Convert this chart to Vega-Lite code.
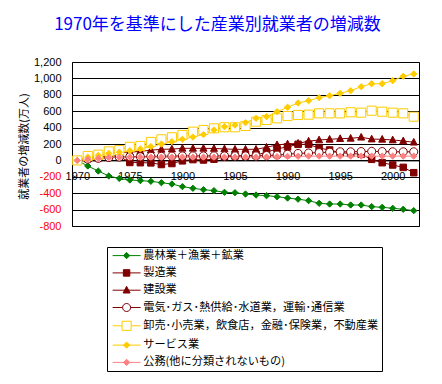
{
"$schema":"https://vega.github.io/schema/vega-lite/v6.json",
"width":347,"height":164,
"autosize":"none",
"padding":{"left":72,"top":62,"right":23,"bottom":158},
"background":"white",
"title":{"text":"1970年を基準にした産業別就業者の増減数","color":"#0000FF","font":"Noto Sans CJK JP","fontSize":17,"fontWeight":"normal","anchor":"middle","frame":"group","dx":-28,"offset":22},
"data":{"values":[
{"year":1970,"series":"農林業＋漁業＋鉱業","value":0},{"year":1971,"series":"農林業＋漁業＋鉱業","value":-68},{"year":1972,"series":"農林業＋漁業＋鉱業","value":-130},{"year":1973,"series":"農林業＋漁業＋鉱業","value":-190},{"year":1974,"series":"農林業＋漁業＋鉱業","value":-220},{"year":1975,"series":"農林業＋漁業＋鉱業","value":-239},{"year":1976,"series":"農林業＋漁業＋鉱業","value":-247},{"year":1977,"series":"農林業＋漁業＋鉱業","value":-255},{"year":1978,"series":"農林業＋漁業＋鉱業","value":-272},{"year":1979,"series":"農林業＋漁業＋鉱業","value":-288},{"year":1980,"series":"農林業＋漁業＋鉱業","value":-320},{"year":1981,"series":"農林業＋漁業＋鉱業","value":-340},{"year":1982,"series":"農林業＋漁業＋鉱業","value":-357},{"year":1983,"series":"農林業＋漁業＋鉱業","value":-369},{"year":1984,"series":"農林業＋漁業＋鉱業","value":-389},{"year":1985,"series":"農林業＋漁業＋鉱業","value":-394},{"year":1986,"series":"農林業＋漁業＋鉱業","value":-410},{"year":1987,"series":"農林業＋漁業＋鉱業","value":-422},{"year":1988,"series":"農林業＋漁業＋鉱業","value":-430},{"year":1989,"series":"農林業＋漁業＋鉱業","value":-443},{"year":1990,"series":"農林業＋漁業＋鉱業","value":-459},{"year":1991,"series":"農林業＋漁業＋鉱業","value":-473},{"year":1992,"series":"農林業＋漁業＋鉱業","value":-491},{"year":1993,"series":"農林業＋漁業＋鉱業","value":-523},{"year":1994,"series":"農林業＋漁業＋鉱業","value":-532},{"year":1995,"series":"農林業＋漁業＋鉱業","value":-532},{"year":1996,"series":"農林業＋漁業＋鉱業","value":-544},{"year":1997,"series":"農林業＋漁業＋鉱業","value":-544},{"year":1998,"series":"農林業＋漁業＋鉱業","value":-564},{"year":1999,"series":"農林業＋漁業＋鉱業","value":-572},{"year":2000,"series":"農林業＋漁業＋鉱業","value":-584},{"year":2001,"series":"農林業＋漁業＋鉱業","value":-596},{"year":2002,"series":"農林業＋漁業＋鉱業","value":-613},
{"year":1970,"series":"製造業","value":0},{"year":1971,"series":"製造業","value":20},{"year":1972,"series":"製造業","value":30},{"year":1973,"series":"製造業","value":60},{"year":1974,"series":"製造業","value":50},{"year":1975,"series":"製造業","value":-25},{"year":1976,"series":"製造業","value":-28},{"year":1977,"series":"製造業","value":-30},{"year":1978,"series":"製造業","value":-50},{"year":1979,"series":"製造業","value":-38},{"year":1980,"series":"製造業","value":-5},{"year":1981,"series":"製造業","value":10},{"year":1982,"series":"製造業","value":5},{"year":1983,"series":"製造業","value":15},{"year":1984,"series":"製造業","value":45},{"year":1985,"series":"製造業","value":54},{"year":1986,"series":"製造業","value":54},{"year":1987,"series":"製造業","value":65},{"year":1988,"series":"製造業","value":100},{"year":1989,"series":"製造業","value":140},{"year":1990,"series":"製造業","value":165},{"year":1991,"series":"製造業","value":196},{"year":1992,"series":"製造業","value":196},{"year":1993,"series":"製造業","value":150},{"year":1994,"series":"製造業","value":127},{"year":1995,"series":"製造業","value":95},{"year":1996,"series":"製造業","value":85},{"year":1997,"series":"製造業","value":75},{"year":1998,"series":"製造業","value":13},{"year":1999,"series":"製造業","value":-28},{"year":2000,"series":"製造業","value":-56},{"year":2001,"series":"製造業","value":-85},{"year":2002,"series":"製造業","value":-150},
{"year":1970,"series":"建設業","value":0},{"year":1971,"series":"建設業","value":20},{"year":1972,"series":"建設業","value":50},{"year":1973,"series":"建設業","value":90},{"year":1974,"series":"建設業","value":100},{"year":1975,"series":"建設業","value":100},{"year":1976,"series":"建設業","value":110},{"year":1977,"series":"建設業","value":125},{"year":1978,"series":"建設業","value":135},{"year":1979,"series":"建設業","value":138},{"year":1980,"series":"建設業","value":147},{"year":1981,"series":"建設業","value":147},{"year":1982,"series":"建設業","value":147},{"year":1983,"series":"建設業","value":145},{"year":1984,"series":"建設業","value":140},{"year":1985,"series":"建設業","value":135},{"year":1986,"series":"建設業","value":135},{"year":1987,"series":"建設業","value":135},{"year":1988,"series":"建設業","value":160},{"year":1989,"series":"建設業","value":190},{"year":1990,"series":"建設業","value":200},{"year":1991,"series":"建設業","value":208},{"year":1992,"series":"建設業","value":234},{"year":1993,"series":"建設業","value":249},{"year":1994,"series":"建設業","value":257},{"year":1995,"series":"建設業","value":265},{"year":1996,"series":"建設業","value":269},{"year":1997,"series":"建設業","value":282},{"year":1998,"series":"建設業","value":260},{"year":1999,"series":"建設業","value":257},{"year":2000,"series":"建設業","value":249},{"year":2001,"series":"建設業","value":237},{"year":2002,"series":"建設業","value":221},
{"year":1970,"series":"電気･ガス･熱供給･水道業，運輸･通信業","value":0},{"year":1971,"series":"電気･ガス･熱供給･水道業，運輸･通信業","value":15},{"year":1972,"series":"電気･ガス･熱供給･水道業，運輸･通信業","value":25},{"year":1973,"series":"電気･ガス･熱供給･水道業，運輸･通信業","value":35},{"year":1974,"series":"電気･ガス･熱供給･水道業，運輸･通信業","value":40},{"year":1975,"series":"電気･ガス･熱供給･水道業，運輸･通信業","value":45},{"year":1976,"series":"電気･ガス･熱供給･水道業，運輸･通信業","value":45},{"year":1977,"series":"電気･ガス･熱供給･水道業，運輸･通信業","value":50},{"year":1978,"series":"電気･ガス･熱供給･水道業，運輸･通信業","value":50},{"year":1979,"series":"電気･ガス･熱供給･水道業，運輸･通信業","value":52},{"year":1980,"series":"電気･ガス･熱供給･水道業，運輸･通信業","value":55},{"year":1981,"series":"電気･ガス･熱供給･水道業，運輸･通信業","value":55},{"year":1982,"series":"電気･ガス･熱供給･水道業，運輸･通信業","value":55},{"year":1983,"series":"電気･ガス･熱供給･水道業，運輸･通信業","value":55},{"year":1984,"series":"電気･ガス･熱供給･水道業，運輸･通信業","value":55},{"year":1985,"series":"電気･ガス･熱供給･水道業，運輸･通信業","value":55},{"year":1986,"series":"電気･ガス･熱供給･水道業，運輸･通信業","value":55},{"year":1987,"series":"電気･ガス･熱供給･水道業，運輸･通信業","value":55},{"year":1988,"series":"電気･ガス･熱供給･水道業，運輸･通信業","value":60},{"year":1989,"series":"電気･ガス･熱供給･水道業，運輸･通信業","value":65},{"year":1990,"series":"電気･ガス･熱供給･水道業，運輸･通信業","value":75},{"year":1991,"series":"電気･ガス･熱供給･水道業，運輸･通信業","value":85},{"year":1992,"series":"電気･ガス･熱供給･水道業，運輸･通信業","value":90},{"year":1993,"series":"電気･ガス･熱供給･水道業，運輸･通信業","value":95},{"year":1994,"series":"電気･ガス･熱供給･水道業，運輸･通信業","value":100},{"year":1995,"series":"電気･ガス･熱供給･水道業，運輸･通信業","value":105},{"year":1996,"series":"電気･ガス･熱供給･水道業，運輸･通信業","value":105},{"year":1997,"series":"電気･ガス･熱供給･水道業，運輸･通信業","value":108},{"year":1998,"series":"電気･ガス･熱供給･水道業，運輸･通信業","value":110},{"year":1999,"series":"電気･ガス･熱供給･水道業，運輸･通信業","value":108},{"year":2000,"series":"電気･ガス･熱供給･水道業，運輸･通信業","value":105},{"year":2001,"series":"電気･ガス･熱供給･水道業，運輸･通信業","value":105},{"year":2002,"series":"電気･ガス･熱供給･水道業，運輸･通信業","value":105},
{"year":1970,"series":"卸売･小売業，飲食店，金融･保険業，不動産業","value":0},{"year":1971,"series":"卸売･小売業，飲食店，金融･保険業，不動産業","value":54},{"year":1972,"series":"卸売･小売業，飲食店，金融･保険業，不動産業","value":70},{"year":1973,"series":"卸売･小売業，飲食店，金融･保険業，不動産業","value":110},{"year":1974,"series":"卸売･小売業，飲食店，金融･保険業，不動産業","value":125},{"year":1975,"series":"卸売･小売業，飲食店，金融･保険業，不動産業","value":165},{"year":1976,"series":"卸売･小売業，飲食店，金融･保険業，不動産業","value":176},{"year":1977,"series":"卸売･小売業，飲食店，金融･保険業，不動産業","value":225},{"year":1978,"series":"卸売･小売業，飲食店，金融･保険業，不動産業","value":257},{"year":1979,"series":"卸売･小売業，飲食店，金融･保険業，不動産業","value":282},{"year":1980,"series":"卸売･小売業，飲食店，金融･保険業，不動産業","value":310},{"year":1981,"series":"卸売･小売業，飲食店，金融･保険業，不動産業","value":350},{"year":1982,"series":"卸売･小売業，飲食店，金融･保険業，不動産業","value":371},{"year":1983,"series":"卸売･小売業，飲食店，金融･保険業，不動産業","value":391},{"year":1984,"series":"卸売･小売業，飲食店，金融･保険業，不動産業","value":404},{"year":1985,"series":"卸売･小売業，飲食店，金融･保険業，不動産業","value":404},{"year":1986,"series":"卸売･小売業，飲食店，金融･保険業，不動産業","value":420},{"year":1987,"series":"卸売･小売業，飲食店，金融･保険業，不動産業","value":472},{"year":1988,"series":"卸売･小売業，飲食店，金融･保険業，不動産業","value":493},{"year":1989,"series":"卸売･小売業，飲食店，金融･保険業，不動産業","value":513},{"year":1990,"series":"卸売･小売業，飲食店，金融･保険業，不動産業","value":541},{"year":1991,"series":"卸売･小売業，飲食店，金融･保険業，不動産業","value":554},{"year":1992,"series":"卸売･小売業，飲食店，金融･保険業，不動産業","value":558},{"year":1993,"series":"卸売･小売業，飲食店，金融･保険業，不動産業","value":574},{"year":1994,"series":"卸売･小売業，飲食店，金融･保険業，不動産業","value":574},{"year":1995,"series":"卸売･小売業，飲食店，金融･保険業，不動産業","value":574},{"year":1996,"series":"卸売･小売業，飲食店，金融･保険業，不動産業","value":587},{"year":1997,"series":"卸売･小売業，飲食店，金融･保険業，不動産業","value":582},{"year":1998,"series":"卸売･小売業，飲食店，金融･保険業，不動産業","value":606},{"year":1999,"series":"卸売･小売業，飲食店，金融･保険業，不動産業","value":594},{"year":2000,"series":"卸売･小売業，飲食店，金融･保険業，不動産業","value":582},{"year":2001,"series":"卸売･小売業，飲食店，金融･保険業，不動産業","value":574},{"year":2002,"series":"卸売･小売業，飲食店，金融･保険業，不動産業","value":533},
{"year":1970,"series":"サービス業","value":0},{"year":1971,"series":"サービス業","value":40},{"year":1972,"series":"サービス業","value":60},{"year":1973,"series":"サービス業","value":85},{"year":1974,"series":"サービス業","value":100},{"year":1975,"series":"サービス業","value":118},{"year":1976,"series":"サービス業","value":140},{"year":1977,"series":"サービス業","value":168},{"year":1978,"series":"サービス業","value":200},{"year":1979,"series":"サービス業","value":228},{"year":1980,"series":"サービス業","value":257},{"year":1981,"series":"サービス業","value":285},{"year":1982,"series":"サービス業","value":315},{"year":1983,"series":"サービス業","value":371},{"year":1984,"series":"サービス業","value":411},{"year":1985,"series":"サービス業","value":430},{"year":1986,"series":"サービス業","value":460},{"year":1987,"series":"サービス業","value":513},{"year":1988,"series":"サービス業","value":533},{"year":1989,"series":"サービス業","value":594},{"year":1990,"series":"サービス業","value":648},{"year":1991,"series":"サービス業","value":700},{"year":1992,"series":"サービス業","value":728},{"year":1993,"series":"サービス業","value":765},{"year":1994,"series":"サービス業","value":789},{"year":1995,"series":"サービス業","value":818},{"year":1996,"series":"サービス業","value":850},{"year":1997,"series":"サービス業","value":899},{"year":1998,"series":"サービス業","value":935},{"year":1999,"series":"サービス業","value":935},{"year":2000,"series":"サービス業","value":972},{"year":2001,"series":"サービス業","value":1026},{"year":2002,"series":"サービス業","value":1054},
{"year":1970,"series":"公務(他に分類されないもの)","value":0},{"year":1971,"series":"公務(他に分類されないもの)","value":13},{"year":1972,"series":"公務(他に分類されないもの)","value":25},{"year":1973,"series":"公務(他に分類されないもの)","value":35},{"year":1974,"series":"公務(他に分類されないもの)","value":38},{"year":1975,"series":"公務(他に分類されないもの)","value":40},{"year":1976,"series":"公務(他に分類されないもの)","value":40},{"year":1977,"series":"公務(他に分類されないもの)","value":40},{"year":1978,"series":"公務(他に分類されないもの)","value":40},{"year":1979,"series":"公務(他に分類されないもの)","value":40},{"year":1980,"series":"公務(他に分類されないもの)","value":40},{"year":1981,"series":"公務(他に分類されないもの)","value":40},{"year":1982,"series":"公務(他に分類されないもの)","value":40},{"year":1983,"series":"公務(他に分類されないもの)","value":40},{"year":1984,"series":"公務(他に分類されないもの)","value":40},{"year":1985,"series":"公務(他に分類されないもの)","value":40},{"year":1986,"series":"公務(他に分類されないもの)","value":40},{"year":1987,"series":"公務(他に分類されないもの)","value":40},{"year":1988,"series":"公務(他に分類されないもの)","value":42},{"year":1989,"series":"公務(他に分類されないもの)","value":45},{"year":1990,"series":"公務(他に分類されないもの)","value":48},{"year":1991,"series":"公務(他に分類されないもの)","value":50},{"year":1992,"series":"公務(他に分類されないもの)","value":52},{"year":1993,"series":"公務(他に分類されないもの)","value":52},{"year":1994,"series":"公務(他に分類されないもの)","value":52},{"year":1995,"series":"公務(他に分類されないもの)","value":52},{"year":1996,"series":"公務(他に分類されないもの)","value":52},{"year":1997,"series":"公務(他に分類されないもの)","value":52},{"year":1998,"series":"公務(他に分類されないもの)","value":52},{"year":1999,"series":"公務(他に分類されないもの)","value":52},{"year":2000,"series":"公務(他に分類されないもの)","value":52},{"year":2001,"series":"公務(他に分類されないもの)","value":52},{"year":2002,"series":"公務(他に分類されないもの)","value":52}
]},
"encoding":{
 "x":{"field":"year","type":"quantitative","scale":{"domain":[1969.5,2002.5],"nice":false,"zero":false},
  "axis":{"title":null,"orient":"bottom","offset":-65.6,"values":[1970,1975,1980,1985,1990,1995,2000],"labelExpr":"datum.value == 1980 ? '1900' : datum.value == 1985 ? '1905' : '' + datum.value","grid":false,"ticks":false,"domain":true,"domainColor":"black","domainWidth":1,"labelPadding":10,"labelFont":"Liberation Sans","labelFontSize":11,"labelColor":"black","labelFlush":false,"labelOverlap":false}},
 "y":{"field":"value","type":"quantitative","scale":{"domain":[-800,1200],"nice":false,"zero":false},
  "axis":{"title":"就業者の増減数(万人)","titleFont":"Noto Sans CJK JP","titleFontSize":11,"titleFontWeight":"normal","titleColor":"black","titleX":-48,"titleY":84,"titleBaseline":"middle","values":[-800,-600,-400,-200,0,200,400,600,800,1000,1200],"labelExpr":"replace(format(datum.value, ',d'), '−', '-')","labelColor":{"condition":{"test":"datum.value < 0","value":"#FF0000"},"value":"black"},"labelFont":"Liberation Sans","labelFontSize":11,"labelPadding":11,"ticks":false,"domain":false,"grid":true,"gridColor":"black","gridOpacity":1,"gridWidth":1}}
},
"layer":[
 {"mark":{"type":"line","strokeWidth":1},
  "encoding":{"color":{"field":"series","type":"nominal","legend":null,"scale":{"domain":["農林業＋漁業＋鉱業","製造業","建設業","電気･ガス･熱供給･水道業，運輸･通信業","卸売･小売業，飲食店，金融･保険業，不動産業","サービス業","公務(他に分類されないもの)"],"range":["#008000","#800000","#800000","#800000","#FFCC00","#FFCC00","#FF8080"]}}}},
 {"mark":{"type":"point","size":49,"strokeWidth":1,"opacity":1},
  "encoding":{
   "shape":{"field":"series","type":"nominal","legend":null,"scale":{"domain":["農林業＋漁業＋鉱業","製造業","建設業","電気･ガス･熱供給･水道業，運輸･通信業","卸売･小売業，飲食店，金融･保険業，不動産業","サービス業","公務(他に分類されないもの)"],"range":["M0,-0.9L0.9,0L0,0.9L-0.9,0Z","M-0.93,-0.93H0.93V0.93H-0.93Z","M0,-1.1L1,0.8L-1,0.8Z","M-1.15,0A1.15,1.15 0 1,0 1.15,0A1.15,1.15 0 1,0 -1.15,0Z","M-1.3,-1.3H1.3V1.3H-1.3Z","M0,-0.9L0.9,0L0,0.9L-0.9,0Z","M0,-0.9L0.9,0L0,0.9L-0.9,0Z"]}},
   "fill":{"field":"series","type":"nominal","legend":null,"scale":{"domain":["農林業＋漁業＋鉱業","製造業","建設業","電気･ガス･熱供給･水道業，運輸･通信業","卸売･小売業，飲食店，金融･保険業，不動産業","サービス業","公務(他に分類されないもの)"],"range":["#008000","#800000","#800000","#FFFFFF","#FFFFFF","#FFCC00","#FF8080"]}},
   "stroke":{"field":"series","type":"nominal","legend":null,"scale":{"domain":["農林業＋漁業＋鉱業","製造業","建設業","電気･ガス･熱供給･水道業，運輸･通信業","卸売･小売業，飲食店，金融･保険業，不動産業","サービス業","公務(他に分類されないもの)"],"range":["#008000","#800000","#800000","#800000","#FFCC00","#FFCC00","#FF8080"]}}}},
 {"mark":{"type":"point","size":64,"strokeWidth":1,"opacity":0},
  "encoding":{
   "shape":{"field":"series","type":"nominal","scale":{"domain":["農林業＋漁業＋鉱業","製造業","建設業","電気･ガス･熱供給･水道業，運輸･通信業","卸売･小売業，飲食店，金融･保険業，不動産業","サービス業","公務(他に分類されないもの)"],"range":["M-3.5,0H3.5M0,-0.79L0.79,0L0,0.79L-0.79,0Z","M-3.5,0H3.5M-0.81,-0.81H0.81V0.81H-0.81Z","M-3.5,0H3.5M0,-0.96L0.875,0.7L-0.875,0.7Z","M-3.5,0H-1M1,0H3.5M-1,0A1,1 0 1,0 1,0A1,1 0 1,0 -1,0Z","M-3.5,0H-1.14M1.14,0H3.5M-1.14,-1.14H1.14V1.14H-1.14Z","M-3.5,0H3.5M0,-0.79L0.79,0L0,0.79L-0.79,0Z","M-3.5,0H3.5M0,-0.79L0.79,0L0,0.79L-0.79,0Z"]},
    "legend":{"title":null,"orient":"none","legendX":35,"legendY":185,"strokeColor":"black","fillColor":"white","padding":3,"symbolOffset":11,"labelOffset":11,"symbolSize":64,"symbolStrokeWidth":1,"symbolOpacity":1,"labelFont":"Noto Sans CJK JP","labelFontSize":11.2,"labelColor":"black","labelLimit":0,"rowPadding":5.3}},
   "fill":{"field":"series","type":"nominal","scale":{"domain":["農林業＋漁業＋鉱業","製造業","建設業","電気･ガス･熱供給･水道業，運輸･通信業","卸売･小売業，飲食店，金融･保険業，不動産業","サービス業","公務(他に分類されないもの)"],"range":["#008000","#800000","#800000","#FFFFFF","#FFFFFF","#FFCC00","#FF8080"]},
    "legend":{"title":null,"orient":"none","legendX":35,"legendY":185,"strokeColor":"black","fillColor":"white","padding":3,"symbolOffset":11,"labelOffset":11,"symbolSize":64,"symbolStrokeWidth":1,"symbolOpacity":1,"labelFont":"Noto Sans CJK JP","labelFontSize":11.2,"labelColor":"black","labelLimit":0,"rowPadding":5.3}},
   "stroke":{"field":"series","type":"nominal","scale":{"domain":["農林業＋漁業＋鉱業","製造業","建設業","電気･ガス･熱供給･水道業，運輸･通信業","卸売･小売業，飲食店，金融･保険業，不動産業","サービス業","公務(他に分類されないもの)"],"range":["#008000","#800000","#800000","#800000","#FFCC00","#FFCC00","#FF8080"]},
    "legend":{"title":null,"orient":"none","legendX":35,"legendY":185,"strokeColor":"black","fillColor":"white","padding":3,"symbolOffset":11,"labelOffset":11,"symbolSize":64,"symbolStrokeWidth":1,"symbolOpacity":1,"labelFont":"Noto Sans CJK JP","labelFontSize":11.2,"labelColor":"black","labelLimit":0,"rowPadding":5.3}}}}
],
"resolve":{"scale":{"shape":"independent","fill":"independent","stroke":"independent"}},
"config":{"view":{"stroke":"black","strokeWidth":1},"axis":{"labelFont":"Liberation Sans"}}
}
